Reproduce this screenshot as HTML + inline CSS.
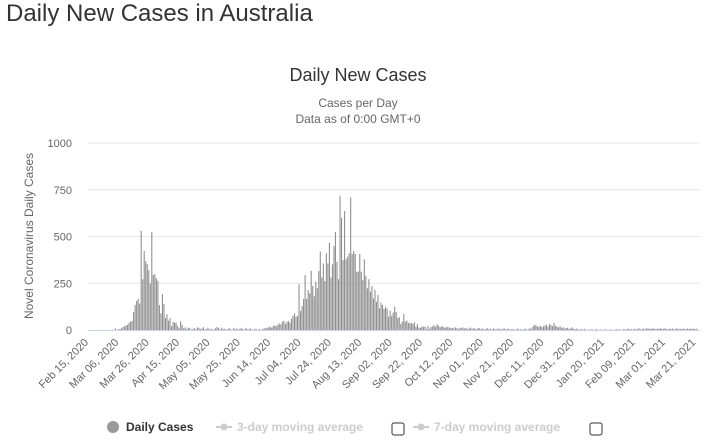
<!DOCTYPE html>
<html><head><meta charset="utf-8"><style>
body{margin:0;background:#fff;font-family:"Liberation Sans",sans-serif;}
#wrap{position:relative;width:707px;height:441px;overflow:hidden}
h1{position:absolute;left:6px;top:0;margin:0;font-size:24px;font-weight:normal;color:#333}
</style></head><body>
<div id="wrap">
<h1>Daily New Cases in Australia</h1>
<svg id="chart" width="707" height="441" style="position:absolute;left:0;top:0"></svg>
</div>
<script>
const startDate = [2020, 1, 15];
const yTicks = [0, 250, 500, 750, 1000];
const dailyCases = [
0,0,0,0,0,0,0,0,0,0,
0,0,0,1,0,0,2,0,9,0,
4,6,9,16,20,25,27,39,45,48,
96,134,155,166,141,530,271,422,368,352,
320,249,524,294,299,276,263,134,89,192,
139,64,84,50,64,20,43,39,40,21,
9,46,27,9,14,5,12,12,2,6,
10,3,14,12,5,8,15,2,5,12,
3,7,2,4,9,16,10,3,12,5,
6,2,4,10,3,1,12,4,8,2,
6,10,4,2,12,3,5,9,2,1,
7,3,2,5,0,5,8,10,12,14,
18,12,22,25,20,28,35,30,45,48,
32,43,48,39,60,75,89,71,75,244,
101,128,166,294,166,214,196,317,235,180,
258,223,315,419,281,356,262,410,356,467,
280,351,449,524,365,271,716,600,374,636,
378,392,410,709,406,422,406,312,312,406,
312,267,378,289,223,271,205,235,169,214,
151,187,116,146,134,112,125,114,71,103,
75,93,125,96,64,68,32,45,86,45,
50,39,36,39,32,41,18,32,14,11,
21,16,18,5,21,7,16,20,25,18,
30,22,15,20,18,12,16,15,14,10,
12,8,14,10,6,12,9,14,8,11,
5,9,13,6,10,7,4,12,9,5,
8,3,6,10,4,7,2,9,5,3,
8,4,6,2,10,3,5,7,2,4,
6,1,3,8,2,5,1,4,7,2,
3,10,6,18,28,24,20,18,22,15,
20,24,28,18,32,26,20,38,22,18,
14,20,12,15,8,10,12,5,9,14,
6,4,8,3,2,5,1,6,2,0,
3,1,4,0,2,5,1,0,3,0,
2,4,1,0,3,2,0,1,4,2,
3,1,0,6,2,4,8,3,5,2,
7,4,6,9,3,5,8,4,10,6,
8,5,9,7,4,8,6,10,5,7,
9,6,4,7,5,8,3,6,9,4,
7,5,8,6,4,9,5,7,6,8,
5,7
];
const labelEvery = 20;
const months = ["Jan","Feb","Mar","Apr","May","Jun","Jul","Aug","Sep","Oct","Nov","Dec"];

const svg = document.getElementById('chart');
const NS = 'http://www.w3.org/2000/svg';
const X0 = 88, DX = 1.518, Y0 = 330, YTOP = 143, YMAX = 1000;
function xScale(i){ return X0 + DX*i; }
function yScale(v){ return Y0 - (v/YMAX)*(Y0-YTOP); }
function mk(tag, attrs, txt){
  const e = document.createElementNS(NS, tag);
  for (const k in attrs) e.setAttribute(k, attrs[k]);
  if (txt!==undefined) e.textContent = txt;
  svg.appendChild(e); return e;
}
let t;
t = mk('text',{x:358,y:81,'text-anchor':'middle','font-size':18,fill:'#333'},'Daily New Cases');


t = mk('text',{x:358,y:107,'text-anchor':'middle','font-size':12,fill:'#666'},'Cases per Day');


t = mk('text',{x:358,y:123,'text-anchor':'middle','font-size':12,fill:'#666'},'Data as of 0:00 GMT+0');


t = mk('text',{x:0,y:0,'text-anchor':'middle','font-size':12,fill:'#666',transform:'translate(33,236) rotate(-90)'},'Novel Coronavirus Daily Cases');



yTicks.forEach(v=>{
  const y = yScale(v);
  if (v>0){
    const g = mk('line',{x1:X0,x2:700,y1:y,y2:y,stroke:'#e6e6e6','stroke-width':1});
    
    
  }
  const l = mk('text',{x:72,y:y+4,'text-anchor':'end','font-size':11,fill:'#666'},String(v));
  
  
});

dailyCases.forEach((v,i)=>{
  if (v<=0) return;
  const y = yScale(v);
  const b = mk('rect',{x:xScale(i)-0.5,y:y,width:1.1,height:Y0-y,fill:'#8f8f8f'});
  
  
});
const ax = mk('line',{x1:X0,x2:700,y1:Y0+0.5,y2:Y0+0.5,stroke:'#ccd6eb','stroke-width':1});



const base = new Date(Date.UTC(startDate[0],startDate[1],startDate[2]));
for (let i=0;i<dailyCases.length;i+=labelEvery){
  const d = new Date(base.getTime()+i*86400000);
  const s = months[d.getUTCMonth()]+' '+String(d.getUTCDate()).padStart(2,'0')+', '+d.getUTCFullYear();
  const x = xScale(i)+1, y = 343;
  const l = mk('text',{x:x,y:y,'text-anchor':'end','font-size':11,fill:'#666',transform:`rotate(-45 ${x} ${y})`},s);
  
  
}

let c = mk('circle',{cx:113,cy:427,r:6,fill:'#999'});


t = mk('text',{x:126,y:431,'font-size':12,'font-weight':'bold',fill:'#333'},'Daily Cases');


[[216,'3-day moving average',392],[413,'7-day moving average',590]].forEach((e,k)=>{
  const ln = mk('line',{x1:e[0],x2:e[0]+16,y1:427,y2:427,stroke:'#ccc','stroke-width':2});
  
  
  const dt = mk('circle',{cx:e[0]+8,cy:427,r:3.5,fill:'#ccc'});
  
  
  const tx = mk('text',{x:e[0]+21,y:431,'font-size':12,'font-weight':'bold',fill:'#ccc'},e[1]);
  
  
  const cb = mk('rect',{x:e[2],y:423,width:12,height:12,rx:2,fill:'#fff',stroke:'#333','stroke-width':1});
  
  
});
</script>
</body></html>
